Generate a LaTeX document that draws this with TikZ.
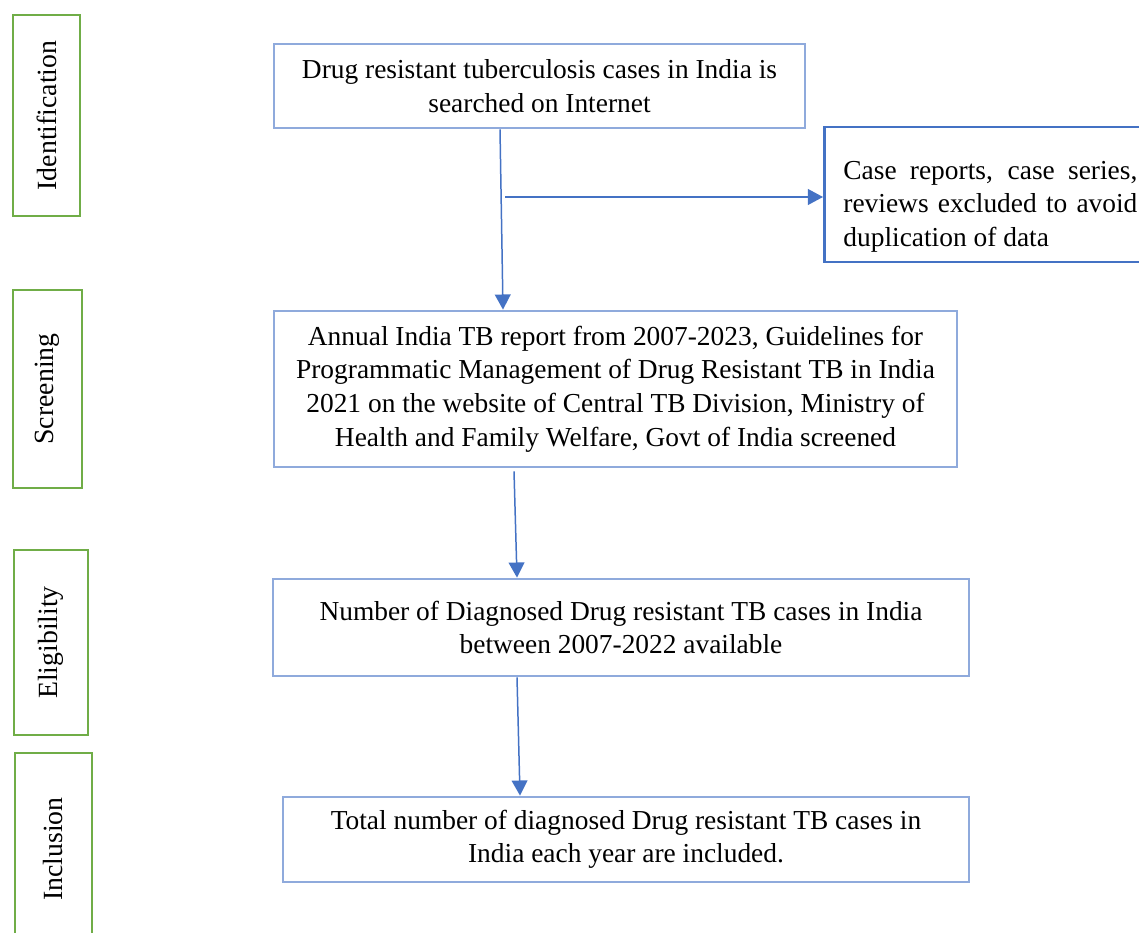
\documentclass[tikz,border=0pt]{standalone}
\usepackage{fontspec}
\setmainfont{Liberation Serif}
\usepackage{tikz}
\usetikzlibrary{arrows.meta,calc}
\usetikzlibrary{positioning}
\definecolor{boxblue}{HTML}{8FAADC}
\definecolor{darkblue}{HTML}{4472C4}
\definecolor{stagegreen}{HTML}{70AD47}

\begin{document}
\begin{tikzpicture}[>={Triangle[length=8.6pt,width=9pt]},
  flow box/.style={rectangle,draw=boxblue,line width=1.6pt,align=center,
    font=\fontsize{15.6}{19.1}\selectfont},
  stage box/.style={rectangle,draw=stagegreen,line width=1.5pt,rotate=90,
    font=\fontsize{15.8}{19}\selectfont}]
					\useasboundingbox (0,0) rectangle (22.78,-18.66);
					% stages on the left
					\node[stage box,minimum width=4.02cm,minimum height=1.34cm] (ident) at (0.93,-2.31) {Identification};
					\node[stage box,minimum width=3.96cm,minimum height=1.38cm] (screenlbl) at (0.95,-7.78) {Screening};
					\node[stage box,minimum width=3.70cm,minimum height=1.48cm] (eliglbl) at (1.02,-12.85) {Eligibility};
					\node[stage box,minimum width=3.84cm,minimum height=1.54cm] (incllbl) at (1.07,-16.98) {Inclusion};
					% flow boxes
					\node[flow box,minimum width=10.62cm,minimum height=1.68cm] (search) at (10.79,-1.72)
						{Drug resistant tuberculosis cases in India is\\searched on Internet};
					\node[flow box,draw=darkblue,anchor=west,minimum width=6.64cm,minimum height=2.7cm,
						text width=5.88cm,align=justify] (excl) at (16.46,-3.89)
						{\rule{0pt}{24pt}Case reports, case series,\linebreak reviews excluded to avoid\linebreak duplication of data};
					\node[flow box,minimum width=13.66cm,minimum height=3.12cm] (screen) at (12.31,-7.78)
						{Annual India TB report from 2007-2023, Guidelines for\\
						 Programmatic Management of Drug Resistant TB in India\\
						 2021 on the website of Central TB Division, Ministry of\\
						 Health and Family Welfare, Govt of India screened};
					\node[flow box,minimum width=13.92cm,minimum height=1.94cm] (elig) at (12.42,-12.55)
						{Number of Diagnosed Drug resistant TB cases in India\\between 2007-2022 available};
					\node[flow box,minimum width=13.72cm,minimum height=1.70cm] (incl) at (12.52,-16.79)
						{Total number of diagnosed Drug resistant TB cases in\\India each year are included.};
					\coordinate (branch) at (10.1,-3.94);
				\path[every edge/.style={draw,->,color=darkblue,line width=0.85pt}]
					([xshift=-0.79cm]search.south) edge ([xshift=-2.25cm]screen.north)
					(branch) edge ([yshift=-0.05cm]excl.west)
					([xshift=-2.03cm,yshift=-0.06cm]screen.south) edge ([xshift=-2.08cm]elig.north)
					([xshift=-2.08cm]elig.south) edge ([xshift=-2.12cm]incl.north);
\end{tikzpicture}
\end{document}
